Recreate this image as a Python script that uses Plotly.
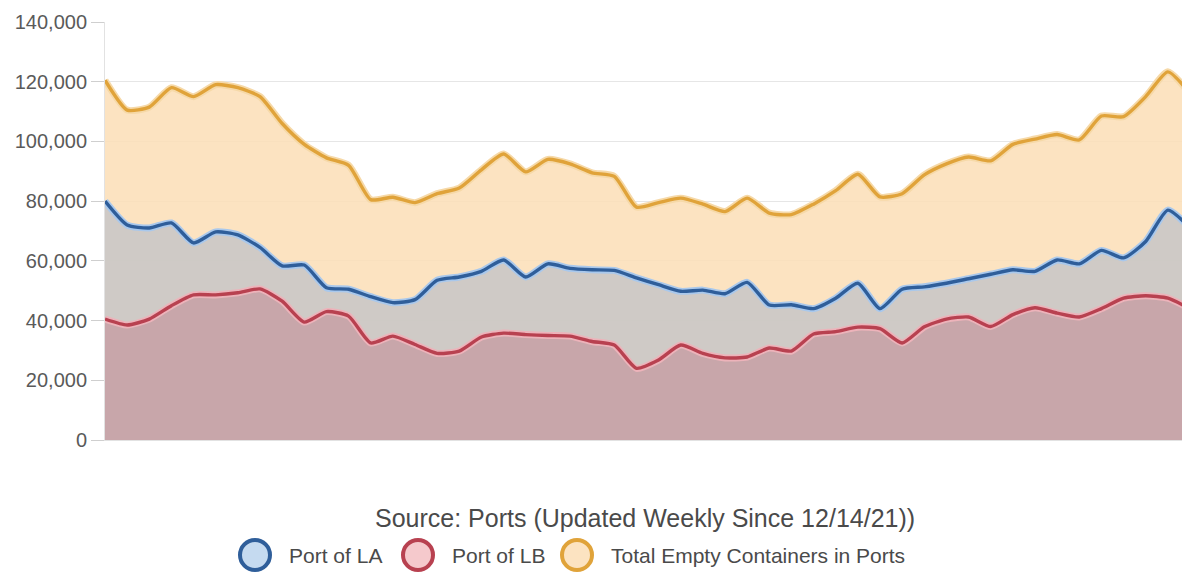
import plotly.graph_objects as go

# Weekly readings (since 12/14/21), values in containers
weeks = list(range(50))

port_la = [80000, 72000, 71000, 72700, 66000, 69700, 68700, 64500, 58300, 58600,
           51000, 50500, 48000, 46000, 47000, 53500, 54600, 56500, 60300, 54600,
           59000, 57500, 57000, 56800, 54300, 52000, 49800, 50200, 49000, 52800,
           45200, 45300, 44000, 47500, 52500, 44000, 50500, 51300, 52500, 54000,
           55500, 57000, 56500, 60300, 59000, 63500, 61000, 66500, 77000, 71000]

port_lb = [40500, 38500, 40500, 45000, 48600, 48600, 49300, 50600, 46500, 39500,
           43000, 41500, 32500, 34800, 32000, 29000, 29800, 34500, 35800, 35300,
           35000, 34800, 33000, 31800, 24000, 26800, 31800, 29000, 27500, 27800,
           30800, 29800, 35500, 36300, 37800, 37300, 32500, 37900, 40500, 41200,
           38000, 42000, 44300, 42500, 41200, 44000, 47500, 48300, 47500, 44000]

total_empty = [120500, 110500, 111500, 118000, 115000, 119000, 118000, 115000, 106000, 99000,
               94500, 92000, 80500, 81300, 79500, 82500, 84400, 90500, 95800, 89800,
               94000, 92500, 89500, 88300, 78000, 79500, 81000, 79000, 76500, 81000,
               76000, 75500, 79000, 83500, 89000, 81400, 82500, 88800, 92500, 94800,
               93500, 99000, 100800, 102300, 100500, 108500, 108300, 115000, 123300, 116000]

y_ticks = [0, 20000, 40000, 60000, 80000, 100000, 120000, 140000]
source_text = "Source: Ports (Updated Weekly Since 12/14/21))"
series_names = ["Port of LA", "Port of LB", "Total Empty Containers in Ports"]

# page has an 8px body margin; figure is sized/offset to compensate
OFF = 8
W, H = 1190 - OFF, 575 - OFF
ML, MR, MT, MB = 105 - OFF, 0, 22 - OFF, 575 - 440
PW, PH = W - ML - MR, H - MT - MB

FONT = "Liberation Sans, Arial, sans-serif"

styles = {
    "total": dict(line="#E0A33A", halo="#F6D9A8", fill="rgba(251,222,182,0.85)"),
    "la": dict(line="#2F5E9A", halo="#A9C8EC", fill="rgba(199,198,199,0.85)"),
    "lb": dict(line="#B84150", halo="#EDB3BA", fill="rgba(199,160,165,0.85)"),
}

fig = go.Figure()
SMOOTH = 0.6
for key, ys, name in [("total", total_empty, series_names[2]),
                      ("la", port_la, series_names[0]),
                      ("lb", port_lb, series_names[1])]:
    st = styles[key]
    fig.add_trace(go.Scatter(x=weeks, y=ys, mode="lines", name=name,
                             fill="tozeroy", fillcolor=st["fill"],
                             line=dict(color=st["halo"], width=7, shape="spline", smoothing=SMOOTH),
                             showlegend=False, hoverinfo="skip"))
for key, ys, name in [("total", total_empty, series_names[2]),
                      ("la", port_la, series_names[0]),
                      ("lb", port_lb, series_names[1])]:
    st = styles[key]
    fig.add_trace(go.Scatter(x=weeks, y=ys, mode="lines", name=name,
                             line=dict(color=st["line"], width=3.4, shape="spline", smoothing=SMOOTH),
                             showlegend=False))

def px_to_paper_x(px):
    return (px - OFF - ML) / PW

def px_to_paper_y(py):
    return (H - MB - (py - OFF)) / PH

legend_items = [
    (series_names[0], 255, 287, "#2F5E9A", "#C5DAF0"),
    (series_names[1], 418, 450, "#B84150", "#F5C9CC"),
    (series_names[2], 577, 609, "#E0A33A", "#FCE3C1"),
]
LEG_Y = 555
shapes = []
annotations = []
for name, cx, tx, lc, fc in legend_items:
    shapes.append(dict(type="circle", xref="paper", yref="paper",
                       xsizemode="pixel", ysizemode="pixel",
                       xanchor=px_to_paper_x(cx), yanchor=px_to_paper_y(LEG_Y),
                       x0=-15, x1=15, y0=-15, y1=15,
                       line=dict(color=lc, width=4), fillcolor=fc))
    annotations.append(dict(text=name, xref="paper", yref="paper",
                            x=px_to_paper_x(tx), y=px_to_paper_y(LEG_Y),
                            xanchor="left", yanchor="middle", showarrow=False,
                            font=dict(family=FONT, size=21, color="#4a4a4a")))

annotations.append(dict(text=source_text, xref="paper", yref="paper",
                        x=px_to_paper_x(645), y=px_to_paper_y(518),
                        xanchor="center", yanchor="middle", showarrow=False,
                        font=dict(family=FONT, size=25, color="#4a4a4a")))

fig.update_layout(
    width=W, height=H,
    margin=dict(l=ML, r=MR, t=MT, b=MB, pad=0),
    paper_bgcolor="white", plot_bgcolor="white",
    showlegend=False,
    shapes=shapes, annotations=annotations,
    xaxis=dict(range=[0, 49], showticklabels=False, ticks="", showgrid=False,
               zeroline=False, showline=True, linecolor="#e2e2e2", linewidth=1),
    yaxis=dict(range=[0, 140000], tickvals=y_ticks, tickformat=",",
               ticks="outside", ticklen=13, tickcolor="#cfcfcf", tickwidth=1,
               showgrid=True, gridcolor="#e6e6e6", gridwidth=1,
               zeroline=False, showline=True, linecolor="#e2e2e2", linewidth=1,
               tickfont=dict(family=FONT, size=20, color="#5a5a5a")),
)

fig.write_html("out.html")
